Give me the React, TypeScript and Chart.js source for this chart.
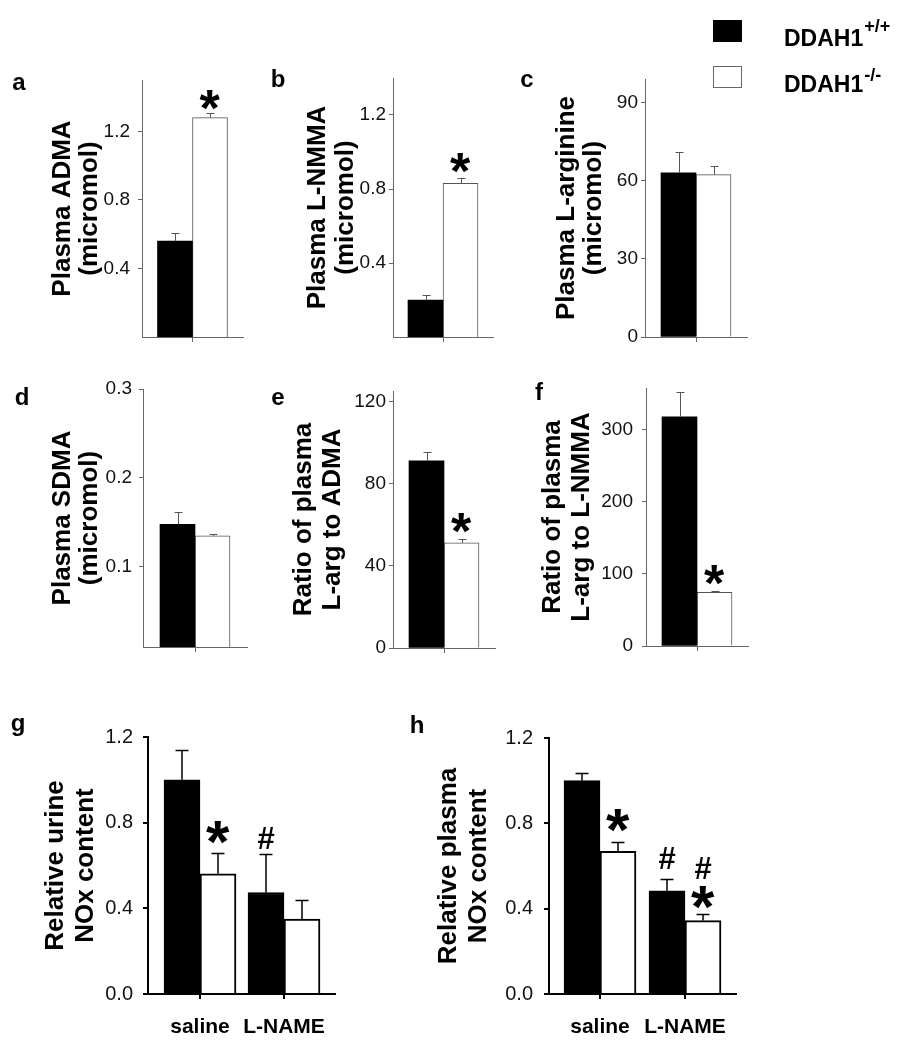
import React, { useEffect, useRef } from 'react';
import { Chart, registerables } from 'chart.js';

Chart.register(...registerables);

const FONT = '"Liberation Sans", Arial, Helvetica, sans-serif';

// ---------- data ----------
const groupNames = ['DDAH1+/+', 'DDAH1-/-'];
const singleCategory = [''];

const admaValues = [0.56, 1.28];
const admaErrors = [0.045, 0.03];
const admaTicks = [0.4, 0.8, 1.2];

const lnmmaValues = [0.2, 0.83];
const lnmmaErrors = [0.028, 0.027];
const lnmmaTicks = [0.4, 0.8, 1.2];

const largValues = [63, 62.3];
const largErrors = [8, 3.5];
const largTicks = [0, 30, 60, 90];

const sdmaValues = [0.148, 0.135];
const sdmaErrors = [0.0135, 0.0025];
const sdmaTicks = [0.1, 0.2, 0.3];

const ratioAdmaValues = [91, 51.2];
const ratioAdmaErrors = [4.3, 1.6];
const ratioAdmaTicks = [0, 40, 80, 120];

const ratioNmmaValues = [318, 74.5];
const ratioNmmaErrors = [34, 2.3];
const ratioNmmaTicks = [0, 100, 200, 300];

const treatments = ['saline', 'L-NAME'];
const treatmentPositions = [1, 2];

const urineWT = [1.0, 0.474];
const urineWTErr = [0.137, 0.182];
const urineKO = [0.561, 0.35];
const urineKOErr = [0.097, 0.089];
const urineTicks = [0, 0.4, 0.8, 1.2];

const plasmaWT = [1.0, 0.484];
const plasmaWTErr = [0.034, 0.053];
const plasmaKO = [0.669, 0.344];
const plasmaKOErr = [0.043, 0.029];
const plasmaTicks = [0, 0.4, 0.8, 1.2];

// ---------- panel configs ----------
type Mark = { ds: number; i: number; text: string; size: number; dy: number };
type PanelCfg = {
  key: string;
  box: [number, number, number, number];
  axis: { left: number; top: number; right: number; bottom: number };
  letter: { text: string; x: number; y: number };
  title: string[];
  titleX: number;
  titleLH: number;
  yMin: number;
  yMax: number;
  yTicks: number[];
  decimals: number;
  tickGap: number;
  heavy: boolean;
  barThickness: number;
  wt: number[];
  wtErr: number[];
  ko: number[];
  koErr: number[];
  linearX?: { cats: string[]; pos: number[]; min: number; max: number };
  marks: Mark[];
  legend?: boolean;
};

const single = (vals: number[], errs: number[]) => ({
  wt: [vals[0]],
  wtErr: [errs[0]],
  ko: [vals[1]],
  koErr: [errs[1]],
});

const STAR = 52;
const STAR_BIG = 60;
const HASH = 31;

const panels: PanelCfg[] = [
  {
    key: 'a', box: [0, 0, 268, 360],
    axis: { left: 142, top: 80, right: 243, bottom: 337 },
    letter: { text: 'a', x: 19, y: 90 },
    title: ['Plasma ADMA', '(micromol)'], titleX: 63, titleLH: 27,
    yMin: 0, yMax: 1.5, yTicks: admaTicks, decimals: 1, tickGap: 8,
    heavy: false, barThickness: 35, ...single(admaValues, admaErrors),
    marks: [{ ds: 1, i: 0, text: '*', size: STAR, dy: 13 }],
  },
  {
    key: 'b', box: [268, 0, 247, 360],
    axis: { left: 393, top: 78, right: 493, bottom: 337 },
    letter: { text: 'b', x: 278, y: 87 },
    title: ['Plasma L-NMMA', '(micromol)'], titleX: 318, titleLH: 28,
    yMin: 0, yMax: 1.4, yTicks: lnmmaTicks, decimals: 1, tickGap: 3,
    heavy: false, barThickness: 35, ...single(lnmmaValues, lnmmaErrors),
    marks: [{ ds: 1, i: 0, text: '*', size: STAR, dy: 15 }],
  },
  {
    key: 'c', box: [515, 0, 400, 360],
    axis: { left: 645, top: 79, right: 747, bottom: 337 },
    letter: { text: 'c', x: 527, y: 87 },
    title: ['Plasma L-arginine', '(micromol)'], titleX: 567, titleLH: 27,
    yMin: 0, yMax: 99, yTicks: largTicks, decimals: 0, tickGap: 3,
    heavy: false, barThickness: 35, ...single(largValues, largErrors),
    marks: [], legend: true,
  },
  {
    key: 'd', box: [0, 360, 268, 320],
    axis: { left: 143, top: 389, right: 247, bottom: 647 },
    letter: { text: 'd', x: 22, y: 405 },
    title: ['Plasma SDMA', '(micromol)'], titleX: 63, titleLH: 27,
    yMin: 0.01, yMax: 0.3, yTicks: sdmaTicks, decimals: 1, tickGap: 7,
    heavy: false, barThickness: 35, ...single(sdmaValues, sdmaErrors),
    marks: [],
  },
  {
    key: 'e', box: [268, 360, 247, 320],
    axis: { left: 393, top: 391, right: 495, bottom: 648 },
    letter: { text: 'e', x: 278, y: 405 },
    title: ['Ratio of plasma', 'L-arg to ADMA'], titleX: 304, titleLH: 29,
    yMin: 0, yMax: 125, yTicks: ratioAdmaTicks, decimals: 0, tickGap: 3,
    heavy: false, barThickness: 35, ...single(ratioAdmaValues, ratioAdmaErrors),
    marks: [{ ds: 1, i: 0, text: '*', size: STAR, dy: 16 }],
  },
  {
    key: 'f', box: [515, 360, 400, 320],
    axis: { left: 646, top: 388, right: 748, bottom: 646 },
    letter: { text: 'f', x: 539, y: 400 },
    title: ['Ratio of plasma', 'L-arg to L-NMMA'], titleX: 553, titleLH: 29,
    yMin: 0, yMax: 358, yTicks: ratioNmmaTicks, decimals: 0, tickGap: 9,
    heavy: false, barThickness: 35, ...single(ratioNmmaValues, ratioNmmaErrors),
    marks: [{ ds: 1, i: 0, text: '*', size: STAR, dy: 16 }],
  },
  {
    key: 'g', box: [0, 680, 405, 370],
    axis: { left: 148, top: 737, right: 335, bottom: 994 },
    letter: { text: 'g', x: 18, y: 731 },
    title: ['Relative urine', 'NOx content'], titleX: 56, titleLH: 30,
    yMin: 0, yMax: 1.2, yTicks: urineTicks, decimals: 1, tickGap: 10,
    heavy: true, barThickness: 36,
    wt: urineWT, wtErr: urineWTErr, ko: urineKO, koErr: urineKOErr,
    linearX: { cats: treatments, pos: treatmentPositions, min: 0.381, max: 2.607 },
    marks: [
      { ds: 1, i: 0, text: '*', size: STAR_BIG, dy: 21 },
      { ds: 0, i: 1, text: '#', size: HASH, dy: 16 },
    ],
  },
  {
    key: 'h', box: [405, 680, 510, 370],
    axis: { left: 549, top: 738, right: 736, bottom: 994 },
    letter: { text: 'h', x: 417, y: 733 },
    title: ['Relative plasma', 'NOx content'], titleX: 449, titleLH: 30,
    yMin: 0, yMax: 1.2, yTicks: plasmaTicks, decimals: 1, tickGap: 11,
    heavy: true, barThickness: 36,
    wt: plasmaWT, wtErr: plasmaWTErr, ko: plasmaKO, koErr: plasmaKOErr,
    linearX: { cats: treatments, pos: treatmentPositions, min: 0.4, max: 2.6 },
    marks: [
      { ds: 1, i: 0, text: '*', size: STAR_BIG, dy: 22 },
      { ds: 0, i: 1, text: '#', size: HASH, dy: 21 },
      { ds: 1, i: 1, text: '#', size: HASH, dy: 46 },
      { ds: 1, i: 1, text: '*', size: STAR_BIG, dy: 17 },
    ],
  },
];

// ---------- plugin ----------
const overlayPlugin = {
  id: 'overlay',
  afterDatasetsDraw(chart: any, _args: any, opts: any) {
    const ctx = chart.ctx as CanvasRenderingContext2D;
    const y = chart.scales.y;
    ctx.save();
    chart.data.datasets.forEach((ds: any, di: number) => {
      const meta = chart.getDatasetMeta(di);
      meta.data.forEach((el: any, i: number) => {
        const top = Math.round(y.getPixelForValue(ds.errTop[i])) + 0.5;
        const x = Math.round(el.x) + (opts.errWidth % 2 === 1 ? 0.5 : 0);
        ctx.strokeStyle = opts.errColor;
        ctx.lineWidth = opts.errWidth;
        ctx.beginPath();
        ctx.moveTo(x, el.y);
        ctx.lineTo(x, top);
        ctx.moveTo(x - opts.cap, top);
        ctx.lineTo(x + opts.cap, top);
        ctx.stroke();
      });
    });
    (opts.marks || []).forEach((m: Mark) => {
      const ds = chart.data.datasets[m.ds];
      const el = chart.getDatasetMeta(m.ds).data[m.i];
      const cy = y.getPixelForValue(ds.errTop[m.i]) - m.dy;
      ctx.font = `bold ${m.size}px ${FONT}`;
      ctx.fillStyle = '#000';
      ctx.textAlign = 'left';
      ctx.textBaseline = 'alphabetic';
      const mt = ctx.measureText(m.text);
      const w = mt.actualBoundingBoxRight + mt.actualBoundingBoxLeft;
      const x = el.x - w / 2 + mt.actualBoundingBoxLeft;
      const by = cy + (mt.actualBoundingBoxAscent - mt.actualBoundingBoxDescent) / 2;
      ctx.fillText(m.text, x, by);
    });
    ctx.restore();
  },
  afterDraw(chart: any, _args: any, opts: any) {
    const ctx = chart.ctx as CanvasRenderingContext2D;
    const [bx, by] = opts.box;
    ctx.save();
    ctx.fillStyle = '#000';
    ctx.font = `bold 24px ${FONT}`;
    ctx.textAlign = 'center';
    ctx.textBaseline = 'alphabetic';
    ctx.fillText(opts.letter.text, opts.letter.x - bx, opts.letter.y - by);
    if (opts.legend) {
      const lx = 713 - bx;
      ctx.fillStyle = '#000';
      ctx.fillRect(lx, 20 - by, 29, 22);
      ctx.fillStyle = '#fff';
      ctx.fillRect(lx, 66 - by, 29, 22);
      ctx.strokeStyle = '#666';
      ctx.lineWidth = 1;
      ctx.strokeRect(lx + 0.5, 66 - by + 0.5, 28, 21);
      const sups = ['+/+', '-/-'];
      const base = [46, 92];
      const supBase = [32, 81];
      ctx.textAlign = 'left';
      ctx.fillStyle = '#000';
      for (let k = 0; k < 2; k++) {
        const main = groupNames[k].replace(sups[k], '');
        ctx.font = `bold 23px ${FONT}`;
        const w = ctx.measureText(main).width;
        ctx.fillText(main, 784 - bx, base[k] - by);
        ctx.font = `bold 18px ${FONT}`;
        ctx.fillText(sups[k], 784 - bx + w + 1, supBase[k] - by);
      }
    }
    ctx.restore();
  },
};

function Panel({ cfg }: { cfg: PanelCfg }) {
  const ref = useRef<HTMLCanvasElement | null>(null);
  useEffect(() => {
    if (!ref.current) return;
    const [bx, by, bw, bh] = cfg.box;
    const { axis } = cfg;
    const axisColor = cfg.heavy ? '#000' : '#666';
    const axisWidth = cfg.heavy ? 2 : 1;
    const titleLeft = cfg.titleX - cfg.titleLH / 2;
    const xAxisHeight = cfg.linearX ? 50 : 20;
    const tickLen = cfg.heavy ? 5 : 4;

    const mkData = (vals: number[]) =>
      cfg.linearX ? cfg.linearX.pos.map((p, i) => ({ x: p, y: vals[i] })) : vals;

    const datasets: any[] = [
      {
        label: groupNames[0],
        data: mkData(cfg.wt),
        errTop: cfg.wt.map((v, i) => v + cfg.wtErr[i]),
        backgroundColor: '#000',
        borderColor: '#000',
        borderWidth: cfg.heavy ? 2 : 0,
        barThickness: cfg.barThickness,
      },
      {
        label: groupNames[1],
        data: mkData(cfg.ko),
        errTop: cfg.ko.map((v, i) => v + cfg.koErr[i]),
        backgroundColor: '#fff',
        borderColor: cfg.heavy ? '#000' : '#555',
        borderWidth: cfg.heavy ? 2 : 1,
        barThickness: cfg.barThickness,
      },
    ];

    const gridCommon = {
      display: true,
      drawOnChartArea: false,
      drawTicks: true,
      tickLength: tickLen,
      color: axisColor,
      lineWidth: axisWidth,
      offset: false,
    };

    const xScale: any = cfg.linearX
      ? {
          type: 'linear',
          min: cfg.linearX.min,
          max: cfg.linearX.max,
          offset: false,
          afterBuildTicks: (s: any) => {
            s.ticks = cfg.linearX!.pos.map((v) => ({ value: v }));
          },
          afterFit: (s: any) => {
            s.height = xAxisHeight;
            s.paddingLeft = 0;
            s.paddingRight = 0;
          },
          border: { display: true, color: axisColor, width: axisWidth },
          grid: gridCommon,
          ticks: {
            autoSkip: false,
            maxRotation: 0,
            padding: 16,
            color: '#000',
            font: { family: FONT, size: 21, weight: 'bold' },
            callback: (v: any) => cfg.linearX!.cats[cfg.linearX!.pos.indexOf(Number(v))] ?? '',
          },
        }
      : {
          type: 'category',
          labels: singleCategory,
          offset: true,
          afterFit: (s: any) => {
            s.height = xAxisHeight;
            s.paddingLeft = 0;
            s.paddingRight = 0;
          },
          border: { display: true, color: axisColor, width: axisWidth },
          grid: { ...gridCommon, tickLength: 5 },
          ticks: { display: true, font: { family: FONT, size: 10 } },
        };

    const chart = new Chart(ref.current, {
      type: 'bar',
      data: { labels: cfg.linearX ? undefined : singleCategory, datasets },
      plugins: [overlayPlugin as any],
      options: {
        responsive: false,
        animation: false,
        events: [],
        layout: {
          padding: {
            left: titleLeft - bx,
            top: axis.top - by,
            right: bx + bw - axis.right,
            bottom: by + bh - axis.bottom - xAxisHeight,
          },
        },
        plugins: {
          legend: { display: false },
          tooltip: { enabled: false },
          overlay: {
            errColor: cfg.heavy ? '#000' : '#555',
            errWidth: cfg.heavy ? 1.5 : 1,
            cap: cfg.heavy ? 6.5 : 4,
            marks: cfg.marks,
            letter: cfg.letter,
            box: cfg.box,
            legend: !!cfg.legend,
          },
        } as any,
        scales: {
          x: xScale,
          y: {
            type: 'linear',
            min: cfg.yMin,
            max: cfg.yMax,
            afterBuildTicks: (s: any) => {
              s.ticks = cfg.yTicks.map((v) => ({ value: v }));
            },
            afterFit: (s: any) => {
              s.width = axis.left - titleLeft;
              s.paddingTop = 0;
              s.paddingBottom = 0;
            },
            border: { display: true, color: axisColor, width: axisWidth },
            grid: gridCommon,
            ticks: {
              padding: cfg.tickGap,
              color: '#111',
              font: { family: FONT, size: cfg.heavy ? 20 : 19 },
              callback: (v: any) => Number(v).toFixed(cfg.decimals),
            },
            title: {
              display: true,
              text: cfg.title,
              color: '#000',
              padding: 0,
              font: { family: FONT, size: 26, weight: 'bold', lineHeight: `${cfg.titleLH}px` },
            },
          } as any,
        },
      } as any,
    });
    return () => chart.destroy();
  }, [cfg]);

  const [bx, by, bw, bh] = cfg.box;
  return (
    <canvas
      ref={ref}
      width={bw}
      height={bh}
      style={{ position: 'absolute', left: bx, top: by, width: bw, height: bh }}
    />
  );
}

export default function App() {
  return (
    <div
      style={{
        position: 'absolute',
        left: 0,
        top: 0,
        width: 915,
        height: 1050,
        background: '#fff',
        overflow: 'hidden',
      }}
    >
      {panels.map((p) => (
        <Panel key={p.key} cfg={p} />
      ))}
    </div>
  );
}
